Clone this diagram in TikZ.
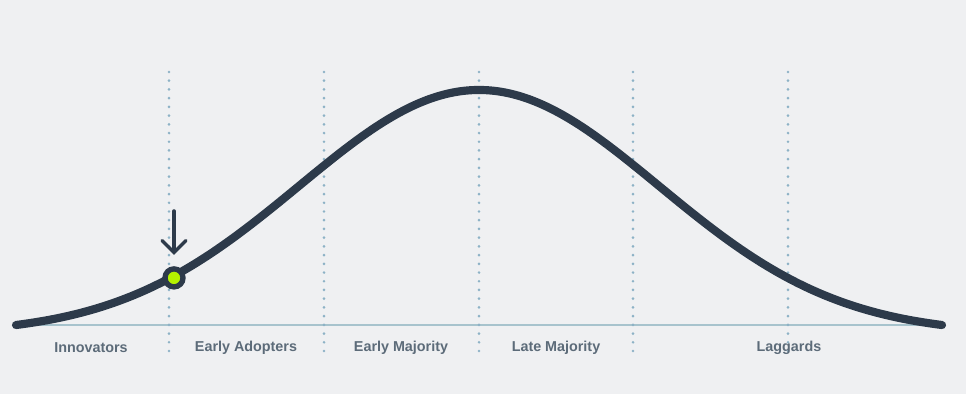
\documentclass[tikz,border=0pt]{standalone}
\usepackage{fontspec}
\setsansfont{Liberation Sans}
\usetikzlibrary{arrows.meta}

\definecolor{bgcol}{HTML}{EFF0F2}
\definecolor{curvecol}{HTML}{2D3A4A}
\definecolor{basecol}{HTML}{A7C3CD}
\definecolor{dotcol}{HTML}{8DB2C6}
\definecolor{limecol}{HTML}{B5F200}
\definecolor{labelcol}{HTML}{5C6B79}

\tikzset{
  divider/.style={dotcol, line width=2.1pt, line cap=round, dash pattern=on 0pt off 6.2pt},
  segment/.style={font=\sffamily\bfseries\fontsize{10.2}{12}\selectfont, text=labelcol, anchor=center},
  marker/.style={circle, fill=limecol, draw=curvecol, line width=3.8pt, minimum size=0.45cm, inner sep=0pt},
}

\begin{document}
\begin{tikzpicture}[x=0.025cm, y=0.025cm,
    declare function={bell(\t)=69+235*(exp(-0.5*((\t-479)/180)^2)-0.0366)/(1-0.0366);}]
  % Background
  \fill[bgcol] (0,0) rectangle (966,394);
  \useasboundingbox (0,0) rectangle (966,394);

  % Baseline
  \coordinate (baseL) at (16,69);
  \coordinate (baseR) at (942,69);
  \draw[basecol, line width=1.4pt] (baseL) -- (baseR);

  % Dividers
  \foreach \xd [count=\i] in {169,324,479,633,788} {
    \coordinate (div\i top) at (\xd,322);
    \coordinate (div\i bot) at (\xd,36);
    \draw[divider] (div\i top) -- (div\i bot);
  }

  % Bell curve
  \draw[curvecol, line width=5.8pt, line cap=round, domain=16:942, samples=160, smooth]
    plot (\x, {bell(\x)});

  % Segment labels
  \node[segment] (innov) at (91,46) {Innovators};
  \node[segment] (adopt) at (246,46) {Early Adopters};
  \node[segment] (early) at (401,46) {Early Majority};
  \node[segment] (late) at (556,46) {Late Majority};
  \node[segment] (lagg) at (789,46) {Laggards};

  % Current position
  \node[marker] (here) at (174,{bell(174)-2}) {};
  \coordinate (arrtop) at (174,183);
  \coordinate (arrtip) at (174,139);
  \draw[curvecol, line width=2.5pt, line cap=round, -{Straight Barb[length=0.3cm, width=0.6cm, line cap=round]}]
    (arrtop) -- (arrtip);
\end{tikzpicture}
\end{document}
